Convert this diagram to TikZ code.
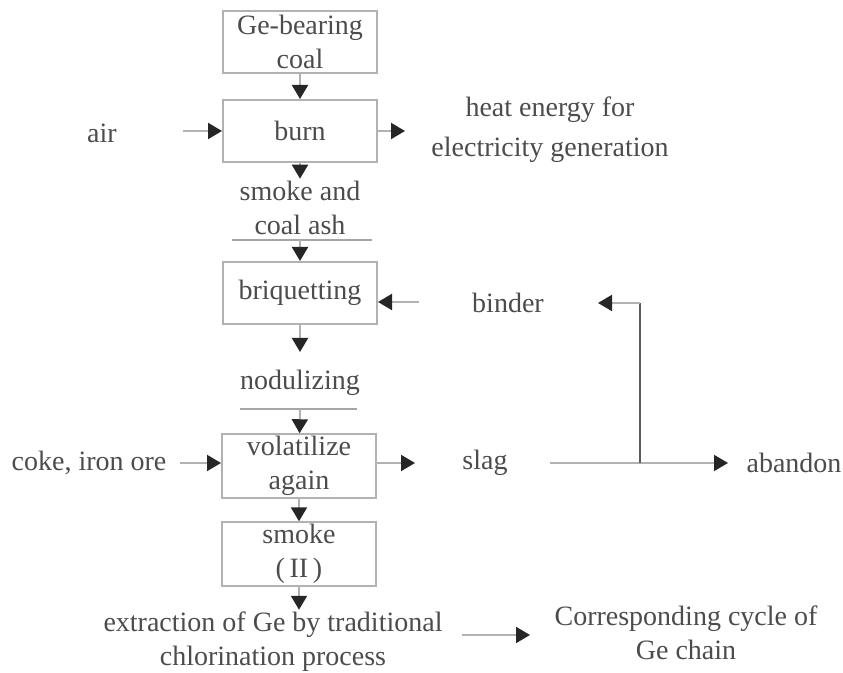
\documentclass[tikz,border=0pt]{standalone}
\usepackage{fontspec}
\setmainfont{Liberation Serif}
\usetikzlibrary{arrows.meta,positioning}

\tikzset{
  box/.style={draw=black!30, line width=1pt, minimum width=77pt, minimum height=31pt,
    align=center, inner sep=1pt},
  lbl/.style={align=center, inner sep=1pt},
  flow/.style={draw=black!30, line width=1pt,
    -{Triangle[length=7pt,width=8pt,color=black!85]}},
  rule/.style={draw=black!35, line width=1.2pt},
  linkdark/.style={draw=black!65, line width=1pt}
}

\begin{document}
\begin{tikzpicture}[x=0.5pt, y=-0.5pt, font=\fontsize{14}{17}\selectfont, text=black!70]
    \useasboundingbox (0,0) rectangle (843,673);

    % main column
    \node[box] (coal) at (300,42) {Ge-bearing\\coal};
    \node[box] (burn) at (300,131) {burn};
    \node[lbl] (ash) at (300,208) {smoke and\\coal ash};
    \node[box] (briq) at (300,293) {briquetting};
    \node[lbl] (nod) at (300,383) {nodulizing};
    \node[box] (vol) at (299,466) {volatilize\\again};
    \node[box] (smoke) at (299,554) {smoke\\(\,II\,)};
    \node[lbl] (extr) at (273,642) {extraction of Ge by traditional\\chlorination process};

    % side labels
    \node[lbl] (air) at (102,133) {air};
    \node[lbl, font=\fontsize{14}{20}\selectfont] (heat) at (550,130) {heat energy for\\electricity generation};
    \node[lbl] (binder) at (508,303) {binder};
    \node[lbl] (coke) at (89,463) {coke, iron ore};
    \node[lbl] (slag) at (485,463) {slag};
    \node[lbl] (abandon) at (794,463) {abandon};
    \node[lbl] (corr) at (686,633) {Corresponding cycle of\\Ge chain};

    % free ends of connectors
    \coordinate (ashL) at (232,240);
    \coordinate (ashR) at (372,240);
    \coordinate (ashM) at (300,240);
    \coordinate (nodT) at (300,352);
    \coordinate (nodL) at (240,409);
    \coordinate (nodR) at (357,409);
    \coordinate (nodM) at (300,409);
    \coordinate (airS) at (183,131);
    \coordinate (heatS) at (405,131);
    \coordinate (binderS) at (419,302);
    \coordinate (cokeS) at (180,463);
    \coordinate (slagS) at (415,463);
    \coordinate (slagE) at (550,463);
    \coordinate (junc) at (640,463);
    \coordinate (juncT) at (640,303);
    \coordinate (binderE) at (598,303);
    \coordinate (abandonS) at (728,463);
    \coordinate (extrS) at (462,635);
    \coordinate (corrS) at (530,635);

    \draw[flow] (coal) -- (burn);
    \draw[flow] (burn) -- (ash);
    \draw[rule] (ashL) -- (ashR);
    \draw[flow] (ashM) -- (briq);
    \draw[flow] (briq) -- (nodT);
    \draw[rule] (nodL) -- (nodR);
    \draw[flow] (nodM) -- (vol);
    \draw[flow] (vol) -- (smoke);
    \draw[flow] (smoke) -- (smoke |- extr.north);

    \draw[flow] (airS) -- (airS -| burn.west);
    \draw[flow] (burn.east |- heatS) -- (heatS);
    \draw[flow] (binderS) -- (binderS -| briq.east);
    \draw[flow] (cokeS) -- (cokeS -| vol.west);
    \draw[flow] (vol.east |- slagS) -- (slagS);
    \draw[flow] (slagE) -- (abandonS);
    \draw[linkdark] (junc) -- (juncT);
    \draw[flow] (juncT) -- (binderE);
    \draw[flow] (extrS) -- (corrS);
\end{tikzpicture}
\end{document}
